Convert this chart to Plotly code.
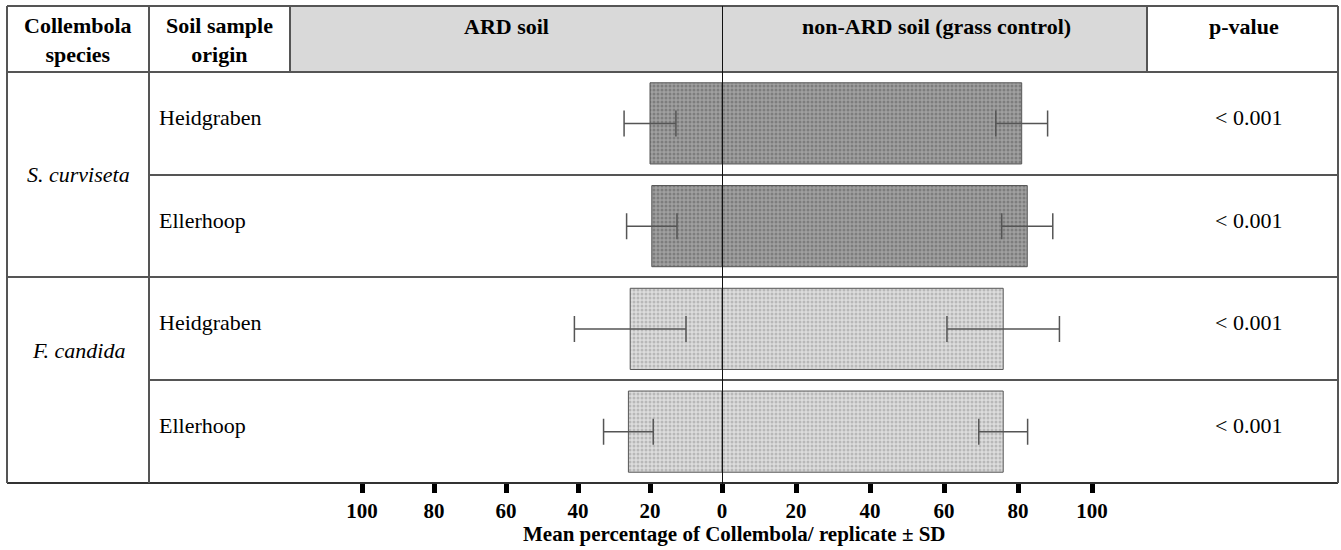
import plotly.graph_objects as go

# ---------------- data ----------------
species = ["S. curviseta", "S. curviseta", "F. candida", "F. candida"]
origins = ["Heidgraben", "Ellerhoop", "Heidgraben", "Ellerhoop"]
ard_mean = [20, 19.5, 25.5, 26]
ard_sd = [7.2, 7.0, 15.5, 6.9]
non_ard_mean = [81, 82.5, 76, 76]
non_ard_sd = [7.0, 6.9, 15.2, 6.6]
p_values = ["< 0.001", "< 0.001", "< 0.001", "< 0.001"]
left_ticks = [-100, -80, -60, -40, -20, 0]
right_ticks = [20, 40, 60, 80, 100]

row_ids = [f"{s} – {o}" for s, o in zip(species, origins)]

# ---------------- layout helpers ----------------
W, H = 1341, 550
def px(x):
    return x / W
def py(y):
    return 1 - y / H

SERIF = "'Liberation Serif', 'Times New Roman', Times, 'DejaVu Serif', serif"
LINE = "#555555"
ZERO_PX = 722
L_SCALE = 3.6
R_SCALE = 3.7

styles = {
    "S. curviseta": dict(bg="#a0a0a0", fg="#5a5a5a"),
    "F. candida": dict(bg="#dddddd", fg="#939393"),
}

fig = go.Figure()

for sp in ["S. curviseta", "F. candida"]:
    idx = [i for i, s in enumerate(species) if s == sp]
    st = styles[sp]
    common = dict(
        orientation="h",
        width=0.79,
        yaxis="y",
        showlegend=False,
        marker=dict(
            color=st["bg"],
            line=dict(color="#555555", width=1),
            pattern=dict(shape=".", bgcolor=st["bg"], fgcolor=st["fg"],
                         size=4, solidity=0.45),
        ),
    )
    fig.add_trace(go.Bar(
        y=[row_ids[i] for i in idx],
        x=[-ard_mean[i] for i in idx],
        xaxis="x",
        error_x=dict(type="data", array=[ard_sd[i] for i in idx], symmetric=True,
                     color="#555555", thickness=1.5, width=13),
        **common,
    ))
    fig.add_trace(go.Bar(
        y=[row_ids[i] for i in idx],
        x=[non_ard_mean[i] for i in idx],
        xaxis="x2",
        error_x=dict(type="data", array=[non_ard_sd[i] for i in idx], symmetric=True,
                     color="#555555", thickness=1.5, width=13),
        **common,
    ))

tickfont = dict(family=SERIF, size=21, color="black", weight="bold")

fig.update_layout(
    width=W, height=H,
    margin=dict(l=0, r=0, t=0, b=0),
    paper_bgcolor="white", plot_bgcolor="rgba(0,0,0,0)",
    barmode="overlay",
    font=dict(family=SERIF),
    xaxis=dict(
        domain=[0, px(ZERO_PX + 18)],
        range=[-ZERO_PX / L_SCALE, 18 / L_SCALE],
        tickvals=left_ticks,
        ticktext=[str(abs(v)) for v in left_ticks],
        ticks="outside", ticklen=9, tickwidth=5, tickcolor="black",
        tickfont=tickfont, ticklabelstandoff=0,
        showgrid=False, zeroline=False, showline=False,
        anchor="y",
    ),
    xaxis2=dict(
        domain=[px(ZERO_PX), 1],
        range=[0, (W - ZERO_PX) / R_SCALE],
        tickvals=right_ticks,
        ticktext=[str(v) for v in right_ticks],
        ticks="outside", ticklen=9, tickwidth=5, tickcolor="black",
        tickfont=tickfont, ticklabelstandoff=0,
        showgrid=False, zeroline=False, showline=False,
        anchor="y",
    ),
    yaxis=dict(
        domain=[py(483), py(72)],
        type="category",
        categoryorder="array", categoryarray=row_ids,
        range=[len(row_ids) - 0.5, -0.5],
        showticklabels=False, showgrid=False, zeroline=False, showline=False,
        ticks="",
    ),
)

shapes = []
# header shading
for x0, x1 in [(290, ZERO_PX), (ZERO_PX, 1147)]:
    shapes.append(dict(type="rect", xref="paper", yref="paper",
                       x0=px(x0), x1=px(x1), y0=py(72), y1=py(6),
                       fillcolor="#d9d9d9", line=dict(width=0), layer="below"))
# horizontal lines
for y, x0, x1 in [(6, 7, 1338), (72, 7, 1338), (175, 149, 1338), (277, 7, 1338),
                  (380, 149, 1338)]:
    shapes.append(dict(type="line", xref="paper", yref="paper",
                       x0=px(x0), x1=px(x1), y0=py(y), y1=py(y),
                       line=dict(color=LINE, width=2)))
# axis / table bottom line
shapes.append(dict(type="line", xref="paper", yref="paper",
                   x0=px(7), x1=px(1338), y0=py(483), y1=py(483),
                   line=dict(color="#333333", width=2)))
# vertical lines
for x, y0, y1 in [(7, 6, 483), (149, 6, 483), (290, 6, 72), (1147, 6, 72), (1338, 6, 483)]:
    shapes.append(dict(type="line", xref="paper", yref="paper",
                       x0=px(x), x1=px(x), y0=py(y0), y1=py(y1),
                       line=dict(color=LINE, width=2)))
# zero line
shapes.append(dict(type="line", xref="x2", yref="paper",
                   x0=0, x1=0, y0=py(485), y1=py(6),
                   line=dict(color="#111111", width=2)))
fig.update_layout(shapes=shapes)

ann = []
def text(x, y, t, size=22, bold=False, italic=False, xanchor="center", yref="paper", yshift=0):
    ann.append(dict(
        x=px(x), xref="paper", y=(py(y) if yref == "paper" else y), yref=yref,
        text=t, showarrow=False, xanchor=xanchor, yanchor="middle", yshift=yshift,
        font=dict(family=SERIF, size=size, color="black",
                  weight=("bold" if bold else "normal"),
                  style=("italic" if italic else "normal")),
        align="center",
    ))

# header
text(78, 40, "Collembola<br>species", bold=True)
text(219, 40, "Soil sample<br>origin", bold=True)
text(506, 27, "ARD soil", bold=True)
text(936, 27, "non-ARD soil (grass control)", bold=True)
text(1244, 27, "p-value", bold=True)

# species labels
text(78, 175, "S. curviseta", italic=True)
text(78, 350, "F. candida", italic=True)

# row labels and p-values
for rid, o, p in zip(row_ids, origins, p_values):
    text(157, rid, o, xanchor="left", yref="y", yshift=6)
    text(1248, rid, p, yref="y", yshift=6)

# axis title
text(735, 534, "Mean percentage of Collembola/ replicate ± SD", size=21, bold=True)

fig.update_layout(annotations=ann)

fig.write_html("out.html")
